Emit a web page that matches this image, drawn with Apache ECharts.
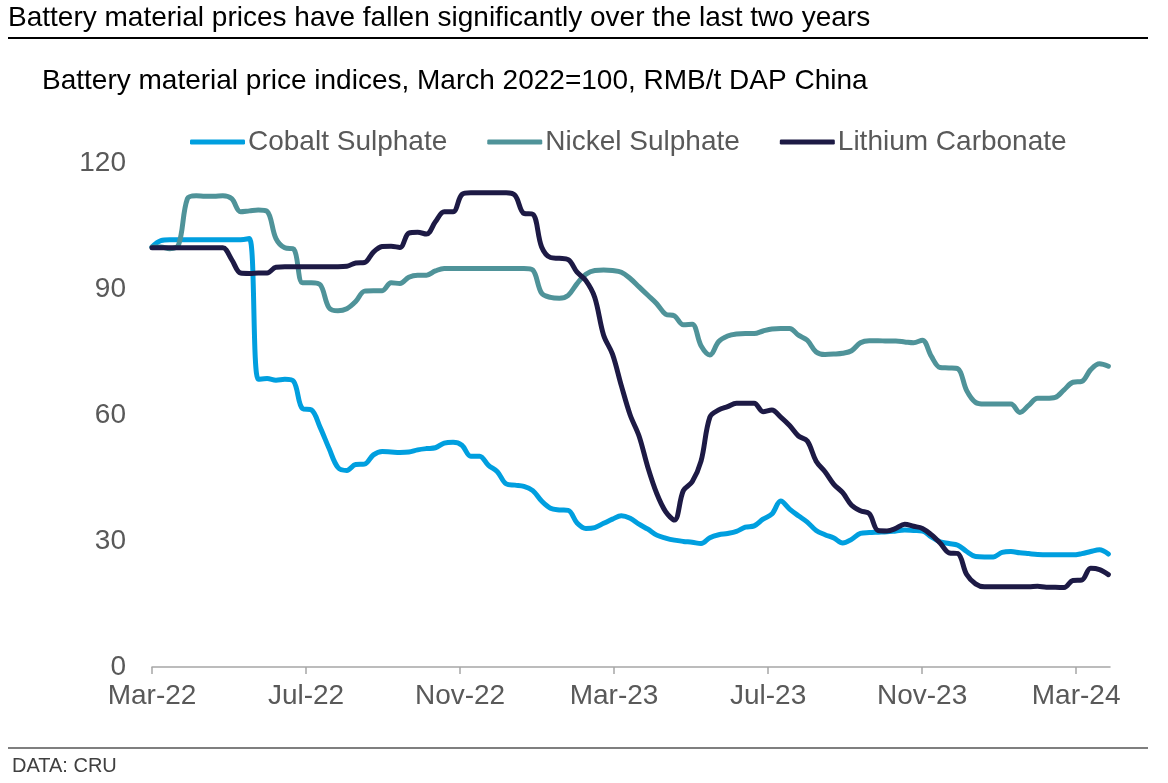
<!DOCTYPE html>
<html>
<head>
<meta charset="utf-8">
<script src="https://cdn.jsdelivr.net/npm/echarts@6.0.0/dist/echarts.min.js"></script>
<style>
  html, body { margin: 0; padding: 0; background: #fff; }
  #chart { width: 1168px; height: 783px; }
</style>
</head>
<body>
<div id="chart"></div>
<script>
// weekly index values, March 2022 = 100 (first point = start of March 2022)
const seriesNames = ['Cobalt Sulphate', 'Nickel Sulphate', 'Lithium Carbonate'];
const tickLabels = ['Mar-22', 'Jul-22', 'Nov-22', 'Mar-23', 'Jul-23', 'Nov-23', 'Mar-24'];

const cobalt = [
  100, 101.5, 101.7, 101.7, 101.7, 101.7, 101.7, 101.7, 101.7, 101.7,
  101.7, 102, 68.5, 68.7, 68.3, 68.5, 68, 61.5, 61.2, 57,
  52, 47.5, 46.8, 48.2, 48.3, 50.5, 51.3, 51.2, 51.1, 51.2,
  51.7, 52, 52.2, 53.3, 53.5, 52.8, 50.2, 50.2, 48, 46.5,
  43.6, 43.3, 43, 42, 39.5, 37.8, 37.4, 37.3, 34.3, 33,
  33.2, 34.2, 35.2, 36, 35.4, 34, 32.8, 31.4, 30.7, 30.2,
  29.9, 29.7, 29.4, 30.8, 31.5, 31.8, 32.3, 33.3, 33.6, 35.2,
  36.4, 39.5, 37.6, 36, 34.5, 32.5, 31.5, 30.7, 29.5, 30.4,
  31.8, 32, 32.1, 32.2, 32.4, 32.6, 32.5, 32.4, 31, 29.8,
  29.4, 29, 27.5, 26.3, 26.2, 26.2, 27.3, 27.5, 27.2, 27,
  26.8, 26.7, 26.7, 26.7, 26.7, 27, 27.5, 27.9, 26.9
];

const nickel = [
  100, 100, 99.6, 100.5, 111.5, 112.2, 112.1, 112.1, 112.2, 111.5,
  108.4, 108.6, 108.8, 108.5, 102, 99.8, 99.5, 91.5, 91.5, 91,
  85.5, 84.8, 85.3, 87, 89.5, 89.6, 89.6, 91.5, 91.3, 92.8,
  93.3, 93.3, 94.3, 94.9, 94.9, 94.9, 94.9, 94.9, 94.9, 94.9,
  94.9, 94.9, 94.9, 94.5, 89, 88, 87.8, 88.5, 91.3, 93.5,
  94.4, 94.5, 94.4, 94, 92.5, 90.5, 88.5, 86.5, 84, 83.6,
  81.5, 81.6, 76.5, 74.3, 77.5, 78.8, 79.3, 79.4, 79.4, 80,
  80.5, 80.6, 80.6, 79, 77.8, 75, 74.4, 74.5, 74.7, 75.3,
  77.2, 77.7, 77.7, 77.6, 77.6, 77.4, 77.2, 77.8, 74, 71.3,
  71.2, 71, 65.8, 63, 62.6, 62.6, 62.6, 62.6, 60.6, 62.3,
  64, 64, 64.2, 66, 67.8, 68, 70.8, 72.2, 71.6
];

const lithium = [
  99.8, 99.8, 99.8, 99.8, 99.8, 99.8, 99.8, 99.8, 99.8, 97,
  93.8, 93.7, 93.8, 93.8, 95.2, 95.3, 95.3, 95.3, 95.3, 95.3,
  95.3, 95.3, 95.4, 96.2, 96.3, 98.8, 100.1, 100.2, 99.9, 103.3,
  103.5, 103.1, 106, 108.4, 108.4, 112.5, 112.9, 112.9, 112.9, 112.9,
  112.9, 112.3, 108, 107.8, 100, 97.5, 97.3, 97, 94, 92,
  88, 79, 74.5, 67, 60, 55, 47.5, 41.3, 37, 35,
  42, 44.1, 49, 59.5, 61.2, 62, 62.8, 62.8, 62.8, 60.8,
  61.2, 59.5, 57.5, 55, 53.8, 49, 46.5, 43.5, 41.5, 38.5,
  37.2, 36.5, 32.5, 32.4, 33, 34, 33.5, 33, 31.5, 29.5,
  27.2, 27, 22, 19.8, 19.1, 19.1, 19.1, 19.1, 19.1, 19.1,
  19.2, 19, 19, 18.9, 20.6, 20.7, 23.5, 23.2, 22
];

const colors = ['#009fdf', '#4f9399', '#1d1a45'];
const font = '"Liberation Sans", Arial, sans-serif';

// week index -> months since March 2022
const toMonths = i => i * 7 / 30.4375;
const pairs = arr => arr.map((v, i) => [toMonths(i), v]);

const chart = echarts.init(document.getElementById('chart'));

chart.setOption({
  animation: false,
  color: colors,
  textStyle: { fontFamily: font },
  title: [
    {
      text: 'Battery material prices have fallen significantly over the last two years',
      left: 8, top: 4, padding: 0,
      textStyle: { fontSize: 28, fontWeight: 'normal', color: '#000', fontFamily: font }
    },
    {
      text: 'Battery material price indices, March 2022=100, RMB/t DAP China',
      left: 42, top: 67, padding: 0,
      textStyle: { fontSize: 28, fontWeight: 'normal', color: '#000', fontFamily: font }
    },
    {
      text: 'DATA: CRU',
      left: 12, top: 756, padding: 0,
      textStyle: { fontSize: 20, fontWeight: 'normal', color: '#404040', fontFamily: font }
    }
  ],
  graphic: [
    { type: 'line', shape: { x1: 8, y1: 38, x2: 1148, y2: 38 }, style: { stroke: '#000', lineWidth: 2 } },
    { type: 'line', shape: { x1: 8, y1: 748, x2: 1148, y2: 748 }, style: { stroke: '#000', lineWidth: 1.2 } }
  ],
  legend: {
    left: 190, top: 128,
    itemWidth: 55, itemHeight: 5,
    itemGap: 40,
    icon: 'roundRect',
    padding: 0,
    textStyle: { fontSize: 28, color: '#595959', fontFamily: font, padding: [0, 0, 0, -2] },
    data: seriesNames
  },
  grid: { left: 152, right: 58, top: 163, bottom: 116 },
  xAxis: {
    type: 'value',
    min: 0,
    max: 24.88,
    interval: 4,
    splitLine: { show: false },
    axisLine: { lineStyle: { color: '#a6a6a6', width: 1.5 } },
    axisTick: { show: true, length: 7, lineStyle: { color: '#a6a6a6', width: 1.5 }, customValues: [0, 4, 8, 12, 16, 20, 24] },
    axisLabel: {
      fontSize: 28, color: '#595959', margin: 15, fontFamily: font,
      customValues: [0, 4, 8, 12, 16, 20, 24],
      formatter: v => tickLabels[Math.round(v / 4)] || ''
    }
  },
  yAxis: {
    type: 'value',
    min: 0, max: 120, interval: 30,
    splitLine: { show: false },
    axisLine: { show: false },
    axisTick: { show: false },
    axisLabel: { fontSize: 28, color: '#595959', margin: 26, fontFamily: font }
  },
  series: [
    { name: seriesNames[0], type: 'line', data: pairs(cobalt), showSymbol: false, smooth: 0.35, lineStyle: { width: 5, cap: 'round', join: 'round' } },
    { name: seriesNames[1], type: 'line', data: pairs(nickel), showSymbol: false, smooth: 0.35, lineStyle: { width: 5, cap: 'round', join: 'round' } },
    { name: seriesNames[2], type: 'line', data: pairs(lithium), showSymbol: false, smooth: 0.35, lineStyle: { width: 5, cap: 'round', join: 'round' } }
  ]
});
</script>
</body>
</html>
